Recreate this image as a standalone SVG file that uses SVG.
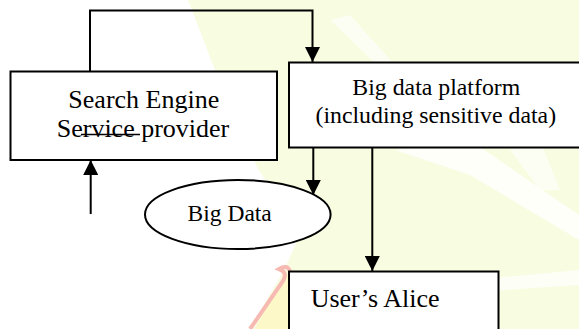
<svg xmlns="http://www.w3.org/2000/svg" width="579" height="329" viewBox="0 0 579 329">
<style>
.box{fill:#fff;stroke:#000;stroke-width:2}
.ln{fill:none;stroke:#000;stroke-width:2}
.t{font-family:"Liberation Serif","Times New Roman",serif;fill:#000}
</style>
<defs>
<marker id="ah" markerUnits="userSpaceOnUse" markerWidth="15" markerHeight="15" refX="15" refY="7.5" orient="auto">
<path d="M0,0 L15,7.5 L0,15 z" fill="#000"/>
</marker>
</defs>
<rect width="579" height="329" fill="#fff"/>
<g id="watermark">
<polygon points="188,0 579,0 579,329 250,329 285,268 300,235 257,167 215,70" fill="#f8fce0"/>
<polygon points="270,300 289,272 289,329 255,329" fill="#fcf8c8"/>
<polygon points="395,150 470,140 579,215 579,240 470,175" fill="#fff" opacity="0.8"/>
<polygon points="510,150 540,140 560,190 540,190" fill="#fff" opacity="0.6"/>
<polygon points="420,285 579,270 579,285 430,295" fill="#fff" opacity="0.7"/>
<polygon points="330,20 350,15 395,65 380,68" fill="#fff" opacity="0.6"/>
<path d="M250,329 L283,281 Q288,272 279,269 Q287,264 290,271" fill="none" stroke="#f6bab2" stroke-width="4"/>
</g>
<g id="connectors">
<polyline class="ln" points="90,71.5 90,10.5 312.5,10.5 312.5,62" marker-end="url(#ah)"/>
<line class="ln" x1="90.7" y1="214" x2="90.7" y2="160" marker-end="url(#ah)"/>
<line class="ln" x1="313.3" y1="147" x2="313.3" y2="195" marker-end="url(#ah)"/>
<line class="ln" x1="372.3" y1="147" x2="372.3" y2="271" marker-end="url(#ah)"/>
</g>
<g id="search-engine">
<rect class="box" x="10.5" y="71.5" width="266.5" height="88.5"/>
<text class="t" x="143.8" y="108.3" font-size="26" text-anchor="middle">Search Engine</text>
<text class="t" x="143" y="137.3" font-size="26" text-anchor="middle">Service provider</text>
<line x1="81" y1="134.5" x2="140" y2="134.5" stroke="#000" stroke-width="1.5"/>
</g>
<g id="big-data-platform">
<rect class="box" x="289" y="62.5" width="300" height="85"/>
<text class="t" x="436.3" y="95" font-size="23.8" text-anchor="middle">Big data platform</text>
<text class="t" x="435.8" y="122.7" font-size="23.8" text-anchor="middle">(including sensitive data)</text>
</g>
<g id="big-data">
<ellipse cx="237.8" cy="214.5" rx="92.8" ry="34.5" fill="#fff" stroke="#000" stroke-width="2"/>
<text class="t" x="229.7" y="221" font-size="23.5" text-anchor="middle">Big Data</text>
</g>
<g id="users-alice">
<rect class="box" x="289" y="271.5" width="209.5" height="70"/>
<text class="t" x="310.7" y="307.3" font-size="26">User’s Alice</text>
</g>
</svg>
